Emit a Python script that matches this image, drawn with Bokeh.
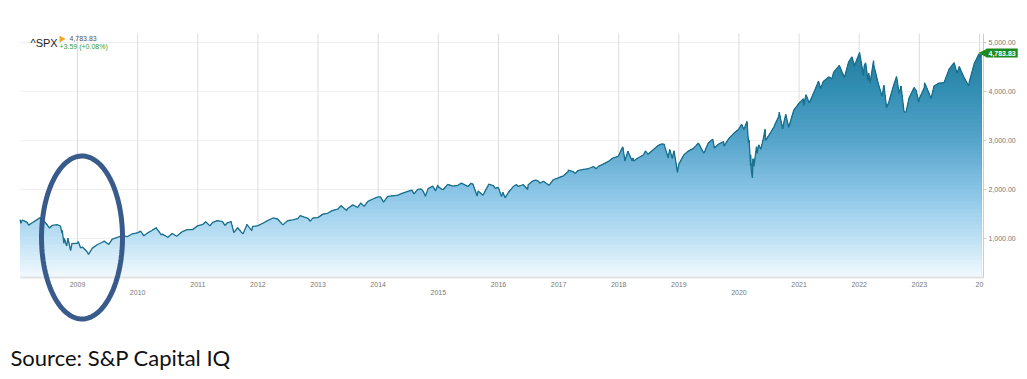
import numpy as np
import pandas as pd
from bokeh.plotting import figure
from bokeh.models import (Range1d, LinearAxis, FixedTicker, NumeralTickFormatter,
                          Label, PolyAnnotation)
from bokeh.embed import file_html
from bokeh.resources import INLINE

# ---------------- data ----------------
dates = [
 "2008-01-18","2008-01-22","2008-01-31","2008-02-29","2008-03-10","2008-03-31","2008-04-30","2008-05-19","2008-05-30",
 "2008-06-30","2008-07-15","2008-07-31","2008-08-29","2008-09-19","2008-09-29","2008-09-30","2008-10-10","2008-10-13",
 "2008-10-27","2008-11-04","2008-11-20","2008-11-28","2008-12-31",
 "2009-01-06","2009-01-20","2009-01-30","2009-02-27","2009-03-09","2009-03-31","2009-04-30","2009-05-29","2009-06-12",
 "2009-07-10","2009-07-31","2009-08-31","2009-09-30","2009-10-30","2009-11-30","2009-12-31",
 "2010-01-19","2010-02-08","2010-02-26","2010-03-31","2010-04-23","2010-05-25","2010-05-31","2010-06-30","2010-07-02",
 "2010-07-30","2010-08-26","2010-09-30","2010-10-29","2010-11-30","2010-12-31",
 "2011-01-31","2011-02-18","2011-03-16","2011-03-31","2011-04-29","2011-05-31","2011-06-15","2011-06-30","2011-07-22",
 "2011-08-08","2011-08-31","2011-09-22","2011-10-03","2011-10-27","2011-11-25","2011-11-30","2011-12-30",
 "2012-01-31","2012-02-29","2012-04-02","2012-04-30","2012-06-01","2012-06-29","2012-07-31","2012-08-31","2012-09-14",
 "2012-10-31","2012-11-15","2012-11-30","2012-12-31",
 "2013-01-31","2013-02-28","2013-03-28","2013-04-30","2013-05-21","2013-06-24","2013-06-28","2013-07-31","2013-08-30",
 "2013-09-18","2013-09-30","2013-10-08","2013-10-31","2013-11-29","2013-12-31",
 "2014-01-15","2014-02-03","2014-02-28","2014-03-31","2014-04-30","2014-05-30","2014-06-30","2014-07-24","2014-08-07",
 "2014-08-29","2014-09-18","2014-09-30","2014-10-15","2014-10-31","2014-11-28","2014-12-16","2014-12-29","2014-12-31",
 "2015-01-16","2015-01-30","2015-02-27","2015-03-31","2015-04-30","2015-05-21","2015-06-30","2015-07-20","2015-07-31",
 "2015-08-25","2015-08-31","2015-09-29","2015-10-30","2015-11-03","2015-11-30","2015-12-14","2015-12-31",
 "2016-01-20","2016-01-29","2016-02-11","2016-02-29","2016-03-31","2016-04-20","2016-04-29","2016-05-31","2016-06-27",
 "2016-06-30","2016-07-29","2016-08-15","2016-08-31","2016-09-09","2016-09-30","2016-11-04","2016-11-30","2016-12-30",
 "2017-01-31","2017-02-28","2017-03-01","2017-03-31","2017-04-13","2017-04-28","2017-05-31","2017-06-30","2017-07-31",
 "2017-08-18","2017-08-31","2017-09-29","2017-10-31","2017-11-30","2017-12-29",
 "2018-01-26","2018-02-08","2018-02-26","2018-03-23","2018-03-29","2018-04-02","2018-04-30","2018-05-31","2018-06-12",
 "2018-06-29","2018-07-31","2018-08-31","2018-09-20","2018-10-03","2018-10-29","2018-10-31","2018-11-07","2018-11-23",
 "2018-11-30","2018-12-03","2018-12-24","2018-12-31",
 "2019-01-31","2019-02-28","2019-03-29","2019-04-30","2019-05-31","2019-06-03","2019-06-28","2019-07-26","2019-08-05",
 "2019-08-30","2019-09-30","2019-10-02","2019-10-31","2019-11-29","2019-12-31",
 "2020-01-17","2020-01-31","2020-02-19","2020-02-28","2020-03-03","2020-03-12","2020-03-13","2020-03-16","2020-03-23",
 "2020-03-26","2020-03-31","2020-04-01","2020-04-17","2020-04-21","2020-04-30","2020-05-13","2020-05-29","2020-06-08",
 "2020-06-11","2020-06-30","2020-07-31","2020-08-31","2020-09-02","2020-09-23","2020-09-30","2020-10-12","2020-10-30",
 "2020-11-30","2020-12-31",
 "2021-01-26","2021-01-29","2021-02-12","2021-03-04","2021-03-31","2021-04-29","2021-05-12","2021-05-28","2021-06-30",
 "2021-07-19","2021-07-30","2021-08-31","2021-09-02","2021-09-30","2021-10-04","2021-10-29","2021-11-18","2021-11-30",
 "2021-12-01","2021-12-31",
 "2022-01-03","2022-01-27","2022-01-31","2022-02-09","2022-02-23","2022-02-28","2022-03-08","2022-03-29","2022-03-31",
 "2022-04-29","2022-05-20","2022-05-31","2022-06-16","2022-06-30","2022-07-29","2022-08-16","2022-08-31","2022-09-12",
 "2022-09-30","2022-10-12","2022-10-31","2022-11-30","2022-12-13","2022-12-28","2022-12-30",
 "2023-01-31","2023-02-02","2023-02-28","2023-03-13","2023-03-31","2023-04-28","2023-05-31","2023-06-30","2023-07-31",
 "2023-08-18","2023-08-31","2023-09-29","2023-10-27","2023-10-31","2023-11-30","2023-12-29",
 "2024-01-04","2024-01-12",
]
values = [
 1385,1310,1378,1330,1273,1322,1385,1426,1400,
 1280,1214,1267,1282,1255,1106,1166,899,1003,
 848,1005,752,896,903,
 935,805,826,735,676,798,873,919,946,
 879,987,1021,1057,1036,1096,1115,
 1150,1056,1104,1169,1217,1074,1089,1031,1022,
 1102,1047,1141,1183,1181,1258,
 1286,1343,1257,1326,1364,1345,1266,1321,1345,
 1119,1219,1130,1099,1285,1159,1247,1258,
 1312,1366,1419,1398,1278,1362,1379,1407,1466,
 1412,1353,1416,1426,
 1498,1515,1569,1598,1669,1573,1606,1686,1633,
 1725,1682,1656,1757,1806,1848,
 1848,1742,1859,1872,1884,1924,1960,1988,1910,
 2003,2011,1972,1862,2018,2068,1972,2091,2059,
 2019,1995,2105,2068,2086,2131,2063,2128,2104,
 1868,1972,1884,2079,2109,2080,2022,2044,
 1859,1940,1829,1932,2060,2102,2065,2097,2001,
 2099,2174,2190,2171,2128,2168,2085,2199,2239,
 2279,2364,2396,2363,2329,2384,2412,2423,2470,
 2426,2472,2519,2575,2648,2674,
 2873,2581,2780,2588,2641,2582,2648,2705,2787,
 2718,2816,2902,2931,2926,2641,2712,2814,2633,
 2760,2790,2351,2507,
 2704,2784,2834,2946,2752,2744,2942,3026,2845,
 2926,2977,2887,3038,3141,3231,
 3330,3226,3386,2954,3003,2481,2711,2386,2237,
 2630,2585,2470,2875,2737,2912,2820,3044,3232,
 3002,3100,3271,3500,3580,3237,3363,3534,3270,
 3622,3756,
 3850,3714,3934,3768,3973,4211,4063,4204,4298,
 4258,4395,4523,4537,4308,4300,4605,4705,4567,
 4513,4766,
 4797,4326,4516,4587,4226,4374,4171,4632,4530,
 4132,3901,4132,3667,3785,4130,4305,3955,4110,
 3586,3577,3872,4080,4019,3783,3840,
 4077,4179,3970,3856,4109,4169,4180,4450,4589,
 4370,4508,4288,4117,4194,4568,4770,
 4688,4784,
]
year_ticks = list(range(2009, 2025))
year_labels = ["2009","2010","2011","2012","2013","2014","2015","2016","2017",
               "2018","2019","2020","2021","2022","2023","20"]
low_years = [2010, 2015, 2020]
y_ticks = [1000, 2000, 3000, 4000, 5000]
last_price = "4,783.83"
change_text = "+3.59 (+0.08%)"
ticker_name = "^SPX"
source_text = "Source: S&P Capital IQ"

# ---------------- derived ----------------
dt = pd.to_datetime(pd.Series(dates))
days = np.where(dt.dt.is_leap_year, 366, 365)
x = (dt.dt.year + (dt.dt.dayofyear - 1) / days).to_numpy(dtype=float)
v = np.array(values, dtype=float)

W, H = 1027, 379
# chart box on the page: x 20..983, y 33..277
CX0, CX1 = 2008.052, 2024.067      # years at the chart's left/right edges
CY0, CY1 = 204.0, 5184.0           # values at the chart's bottom/top edges
ppy = (983 - 20) / (CX1 - CX0)
ppv = (277 - 33) / (CY1 - CY0)


def dx(px):
    return CX0 + (px - 20) / ppy


def dy(py):
    return CY1 - (py - 33) / ppv


p = figure(width=W, height=H, output_backend="svg", toolbar_location=None,
           x_range=Range1d(dx(0), dx(W)), y_range=Range1d(dy(H), dy(0)),
           x_axis_location=None, y_axis_location=None, min_border=0)
p.min_border_left = p.min_border_right = p.min_border_top = p.min_border_bottom = 0
p.outline_line_color = None
p.background_fill_color = "white"
p.border_fill_color = "white"
p.grid.visible = False

# faint horizontal grid + vertical year grid, limited to the chart box
p.segment(x0=[CX0] * len(y_ticks), y0=y_ticks, x1=[CX1] * len(y_ticks), y1=y_ticks,
          line_color="#f0f0f0", line_width=1)
p.segment(x0=year_ticks, y0=[CY0] * len(year_ticks), x1=year_ticks, y1=[CY1] * len(year_ticks),
          line_color="#dcdcdc", line_width=1)

# gradient fill via stacked layers
stops_v = [200, 1000, 2000, 3000, 4000, 5000, 5200]
stops_c = [(244, 250, 254), (190, 225, 245), (136, 196, 230), (86, 165, 203),
           (52, 143, 180), (32, 122, 155), (30, 118, 150)]


def col(val):
    r = np.interp(val, stops_v, [c[0] for c in stops_c])
    g = np.interp(val, stops_v, [c[1] for c in stops_c])
    b = np.interp(val, stops_v, [c[2] for c in stops_c])
    return "#%02x%02x%02x" % (int(r), int(g), int(b))


for t in np.arange(5200, CY0, -80.0):
    p.varea(x=x, y1=np.full_like(v, CY0), y2=np.minimum(v, t),
            fill_color=col(t - 40), fill_alpha=1.0)

p.line(x, v, line_color="#1a6f8c", line_width=1.3)

# right y axis at the chart's right edge
ya = LinearAxis(fixed_location=CX1, bounds=(CY0, CY1),
                ticker=FixedTicker(ticks=y_ticks),
                formatter=NumeralTickFormatter(format="0,0.00"))
ya.axis_line_color = "#cccccc"
ya.major_tick_line_color = "#cccccc"
ya.major_tick_out = 3
ya.major_tick_in = 0
ya.minor_tick_line_color = None
ya.major_label_standoff = 2
ya.major_label_text_font = "Liberation Sans"
ya.major_label_text_font_size = "7px"
ya.major_label_text_color = "#777777"
p.add_layout(ya, "right")

# bottom x axis at the chart's bottom edge
overrides = {yv: ("" if yv in low_years else lab) for yv, lab in zip(year_ticks, year_labels)}
xa = LinearAxis(fixed_location=CY0, bounds=(CX0, CX1),
                ticker=FixedTicker(ticks=year_ticks), major_label_overrides=overrides)
xa.axis_line_color = "#e2e2e2"
xa.axis_line_width = 2
xa.major_tick_line_color = None
xa.minor_tick_line_color = None
xa.major_tick_out = 0
xa.major_tick_in = 0
xa.major_label_standoff = 4
xa.major_label_text_font = "Liberation Sans"
xa.major_label_text_font_size = "7px"
xa.major_label_text_color = "#777777"
p.add_layout(xa, "below")

low_over = {yv: lab for yv, lab in zip(year_ticks, year_labels) if yv in low_years}
xa2 = LinearAxis(fixed_location=dy(288), bounds=(CX0, CX1),
                 ticker=FixedTicker(ticks=low_years), major_label_overrides=low_over)
xa2.axis_line_color = None
xa2.major_tick_line_color = None
xa2.minor_tick_line_color = None
xa2.major_tick_out = 0
xa2.major_tick_in = 0
xa2.major_label_standoff = 1
xa2.major_label_text_font = "Liberation Sans"
xa2.major_label_text_font_size = "7px"
xa2.major_label_text_color = "#777777"
p.add_layout(xa2, "below")

# header
p.add_layout(Label(x=dx(30), y=dy(42), text=ticker_name, text_font="Liberation Sans",
                   text_font_size="11px", text_color="#222222", text_baseline="middle"))
p.scatter([dx(61)], [dy(38.5)], marker="triangle", size=7, angle=-np.pi / 2,
          fill_color="#f5a623", line_color=None)
p.add_layout(Label(x=dx(69), y=dy(37.5), text=last_price, text_font="Liberation Sans",
                   text_font_size="7px", text_color="#555555", text_baseline="middle"))
p.add_layout(Label(x=dx(59), y=dy(46), text=change_text, text_font="Liberation Sans",
                   text_font_size="7px", text_color="#33a133", text_baseline="middle"))

# price tag
p.add_layout(PolyAnnotation(xs=[dx(978), dx(986.5), dx(986.5)],
                            ys=[v[-1], v[-1] + 90, v[-1] - 90],
                            fill_color="#1c8a1c", fill_alpha=1, line_color=None))
p.add_layout(Label(x=dx(986), y=v[-1], text=last_price, text_font="Liberation Sans",
                   text_font_size="7px", text_font_style="bold", text_color="white",
                   text_baseline="middle", background_fill_color="#1c8a1c",
                   padding=2))

# ellipse highlight
th = np.linspace(0, 2 * np.pi, 120)
ex = 81.5 + 40.5 * np.cos(th)
ey = 237 + 81.5 * np.sin(th)
p.add_layout(PolyAnnotation(xs=[dx(a) for a in ex], ys=[dy(b) for b in ey],
                            fill_alpha=0, line_color="#395b8b", line_alpha=1.0, line_width=5))

# source
p.add_layout(Label(x=dx(10), y=dy(357), text=source_text, text_font="Lato",
                   text_font_size="22px", text_color="#111111", text_baseline="middle"))

open("out.html", "w").write(file_html(p, INLINE))
